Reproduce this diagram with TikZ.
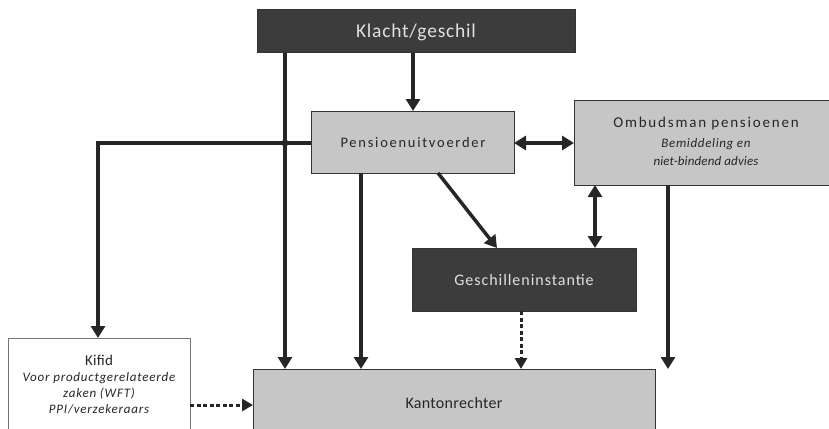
\documentclass[tikz,border=0pt]{standalone}
\usepackage{fontspec}
\setmainfont{Carlito}
\usetikzlibrary{arrows.meta}
\definecolor{darkbox}{HTML}{3C3C3C}
\definecolor{lightbox}{HTML}{C6C6C6}
\newcommand{\fsz}[2]{\fontsize{#1}{#2}\selectfont}
\newcommand{\lsp}[1]{\addfontfeatures{LetterSpace=#1}}
\begin{document}
\begin{tikzpicture}[x=1pt,y=-1pt,
  dbox/.style={draw=black!80,line width=1pt,fill=darkbox},
  lbox/.style={draw=black!80,line width=1pt,fill=lightbox},
  wbox/.style={draw=black!55,line width=0.6pt,fill=white},
  conn/.style={line width=3.5pt,black!85,-{Triangle[length=12pt,width=14pt]}},
  biconn/.style={line width=3.5pt,black!85,{Triangle[length=12pt,width=14pt]}-{Triangle[length=12pt,width=14pt]}},
  dconn/.style={line width=3pt,black!85,dash pattern=on 4pt off 2.5pt,-{Triangle[length=11pt,width=12pt]}},
  lbl/.style={inner sep=0pt,text=black!85},
  wlbl/.style={inner sep=0pt,text=white!88!black}]
\useasboundingbox (0,0) rectangle (829,428);
\begin{scope}
\clip (0,0) rectangle (829,428);
% boxes
\draw[dbox] (257,10) rectangle (575,53);
\node[wlbl,font=\fsz{19.5}{21}\lsp{4}] (klacht) at (416,32) {Klacht/geschil};
\draw[lbox] (311,111) rectangle (514,173);
\node[lbl,font=\fsz{14.5}{16}\lsp{12}] (pens) at (413,143) {Pensioenuitvoerder};
\draw[lbox] (574,100) rectangle (832,185);
\node[lbl,font=\fsz{15}{17}\lsp{12}] (omb) at (706,124) {Ombudsman pensioenen};
\node[lbl,font=\fsz{13}{15}\itshape\lsp{5}] (omb2) at (706,144) {Bemiddeling en};
\node[lbl,font=\fsz{13}{15}\itshape\lsp{1}] (omb3) at (706,161) {niet-bindend advies};
\draw[dbox] (412,248) rectangle (636,311);
\node[wlbl,font=\fsz{16}{18}\lsp{6}] (gesch) at (524,280) {Geschilleninstantie};
\draw[lbox] (253,369) rectangle (655,440);
\node[lbl,font=\fsz{16}{18}\lsp{2}] (kanton) at (454,403) {Kantonrechter};
\draw[wbox] (8,338) rectangle (190,440);
\node[lbl,font=\fsz{15}{17}\lsp{2}] (kifid) at (99,360) {Kifid};
\node[lbl,font=\fsz{13}{15}\itshape\lsp{6}] (kifid2) at (99,378) {Voor productgerelateerde};
\node[lbl,font=\fsz{13}{15}\itshape\lsp{6}] (kifid3) at (99,394) {zaken (WFT)};
\node[lbl,font=\fsz{13}{15}\itshape\lsp{6}] (kifid4) at (99,409) {PPI/verzekeraars};
% named anchors
\coordinate (kB) at (413,53);
\coordinate (pT) at (413,111);
\coordinate (kL) at (285,53);
\coordinate (knL) at (285,369);
\coordinate (jn) at (285,143);
\coordinate (pL) at (311,143);
\coordinate (corner) at (98,143);
\coordinate (kifT) at (98,338);
\coordinate (pB1) at (361,173);
\coordinate (kn2) at (361,369);
\coordinate (pB2) at (438,173);
\coordinate (gT1) at (497,248);
\coordinate (pR) at (514,143);
\coordinate (oL) at (574,143);
\coordinate (oB1) at (595,185);
\coordinate (gT2) at (595,248);
\coordinate (oB2) at (668,185);
\coordinate (kn4) at (668,369);
\coordinate (gB) at (521,311);
\coordinate (kn3) at (521,369);
\coordinate (kifR) at (190,405);
\coordinate (knLeft) at (253,405);
% connectors
\draw[conn] (kB) -- (pT);
\draw[conn] (kL) -- (knL);
\draw[conn] (pL) -- (corner) -- (kifT);
\fill[black!85] (jn) circle (3.5pt);
\draw[conn] (pB1) -- (kn2);
\draw[conn] (pB2) -- (gT1);
\draw[biconn] (pR) -- (oL);
\draw[biconn] (oB1) -- (gT2);
\draw[conn] (oB2) -- (kn4);
\draw[dconn] (gB) -- (kn3);
\draw[dconn] (kifR) -- (knLeft);
\end{scope}
\end{tikzpicture}
\end{document}
